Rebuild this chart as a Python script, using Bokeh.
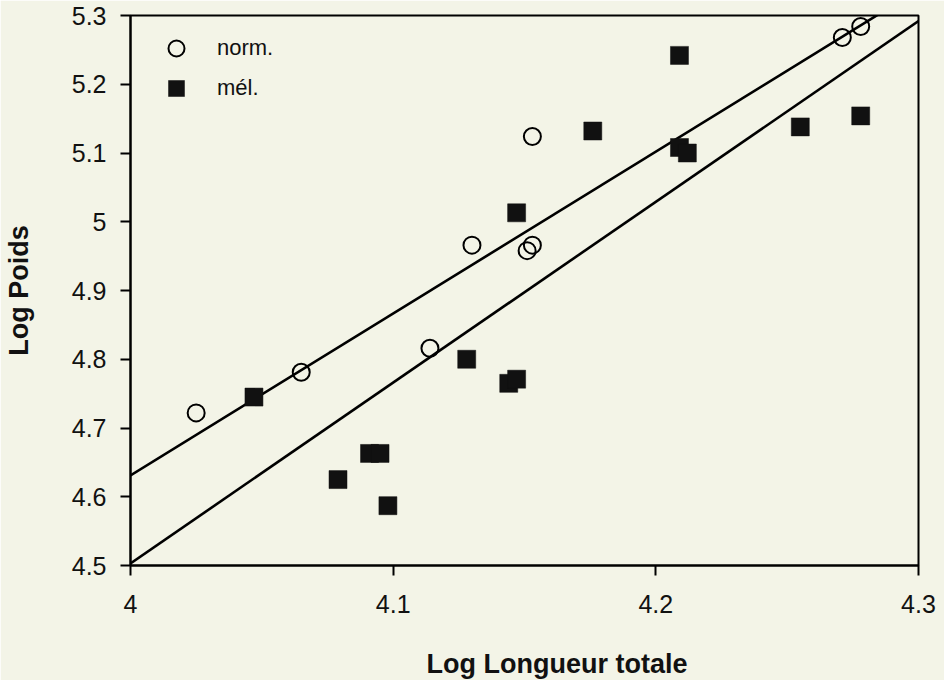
from bokeh.plotting import figure
from bokeh.models import FixedTicker, Legend, LegendItem, Title
from bokeh.embed import file_html
from bokeh.resources import INLINE

# --- data -------------------------------------------------------------
norm_x = [4.025, 4.065, 4.114, 4.130, 4.151, 4.153, 4.153, 4.271, 4.278]
norm_y = [4.722, 4.781, 4.816, 4.966, 4.958, 4.966, 5.124, 5.268, 5.284]

mel_x = [4.047, 4.079, 4.091, 4.095, 4.098, 4.128, 4.144, 4.147, 4.147,
         4.176, 4.209, 4.209, 4.212, 4.255, 4.278]
mel_y = [4.745, 4.625, 4.663, 4.663, 4.587, 4.800, 4.765, 4.771, 5.013,
         5.132, 5.242, 5.108, 5.100, 5.138, 5.154]

# regression lines: intercept at x=4 and slope
norm_line_b0 = 4.631
norm_line_b1 = 2.355
mel_line_b0 = 4.503
mel_line_b1 = 2.63
line_x = [4.0, 4.3]

x_ticks = [4.0, 4.1, 4.2, 4.3]
x_tick_labels = ["4", "4.1", "4.2", "4.3"]
y_ticks = [4.5, 4.6, 4.7, 4.8, 4.9, 5.0, 5.1, 5.2, 5.3]
y_tick_labels = ["4.5", "4.6", "4.7", "4.8", "4.9", "5", "5.1", "5.2", "5.3"]

x_title = "Log Longueur totale"
y_title = "Log Poids"
legend_labels = ["norm.", "mél."]

# --- figure -------------------------------------------------------------
BG = "#f3f4e7"
FONT = "Liberation Sans"

p = figure(width=944, height=680, output_backend="svg", toolbar_location=None,
           x_range=(4.0, 4.3), y_range=(4.5, 5.3),
           min_border_left=130, min_border_right=26,
           min_border_top=15, min_border_bottom=113)
p.background_fill_color = BG
p.border_fill_color = BG
p.outline_line_color = "black"
p.outline_line_width = 2
p.grid.visible = False

for ax in (p.xaxis[0], p.yaxis[0]):
    ax.axis_line_width = 2
    ax.axis_line_color = "black"
    ax.major_tick_line_width = 2
    ax.major_tick_in = 0
    ax.major_tick_out = 10
    ax.minor_tick_line_color = None
    ax.major_label_text_font = FONT
    ax.major_label_text_font_size = "25px"
    ax.major_label_text_color = "#111111"

p.xaxis[0].ticker = FixedTicker(ticks=x_ticks)
p.xaxis[0].major_label_overrides = {t: l for t, l in zip(x_ticks, x_tick_labels)}
p.xaxis[0].major_label_standoff = 19

p.yaxis[0].ticker = FixedTicker(ticks=y_ticks)
p.yaxis[0].major_label_overrides = {t: l for t, l in zip(y_ticks, y_tick_labels)}
p.yaxis[0].major_label_standoff = 14
p.yaxis[0].axis_label = y_title
p.yaxis[0].axis_label_text_font = FONT
p.yaxis[0].axis_label_text_font_size = "27px"
p.yaxis[0].axis_label_text_font_style = "bold"
p.yaxis[0].axis_label_text_color = "#111111"
p.yaxis[0].axis_label_standoff = 35

# spacer panel between the x axis and its title
spacer = Title(text=" ", text_font_size="2px", standoff=25, text_color=BG)
p.add_layout(spacer, "below")
t = Title(text=x_title, align="left", offset=296, text_font=FONT,
          text_font_size="27px", text_font_style="bold", text_color="#111111",
          standoff=4)
p.add_layout(t, "below")

# lines
norm_line_y = [norm_line_b0 + norm_line_b1 * (x - 4.0) for x in line_x]
mel_line_y = [mel_line_b0 + mel_line_b1 * (x - 4.0) for x in line_x]
p.line(line_x, norm_line_y, line_color="black", line_width=2.6)
p.line(line_x, mel_line_y, line_color="black", line_width=2.6)

# points
r_norm = p.scatter(norm_x, norm_y, marker="circle", size=17, fill_color=None,
                   line_color="black", line_width=2)
r_mel = p.scatter(mel_x, mel_y, marker="square", size=18, fill_color="#111111",
                  line_color="#111111", line_width=0.5)

legend = Legend(items=[LegendItem(label=legend_labels[0], renderers=[r_norm]),
                       LegendItem(label=legend_labels[1], renderers=[r_mel])],
                location="top_left", margin=13, padding=0, spacing=0,
                glyph_width=66, glyph_height=40, label_standoff=8,
                label_text_font=FONT, label_text_font_size="22px",
                label_text_color="#111111",
                background_fill_alpha=0, border_line_color=None)
p.add_layout(legend, "center")

open("out.html", "w").write(file_html(p, INLINE))
